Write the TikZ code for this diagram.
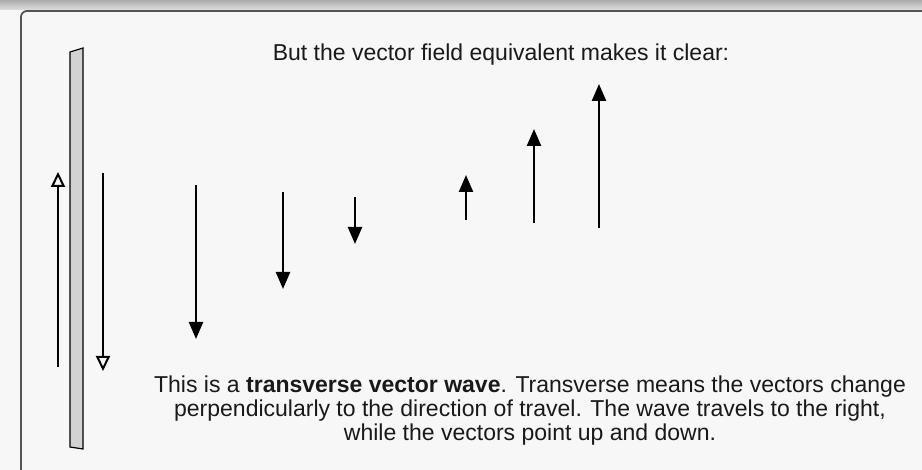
\documentclass[tikz,border=0pt]{standalone}
\usepackage{fontspec}
\setmainfont{Liberation Sans}
\usetikzlibrary{arrows.meta}

\definecolor{panelfill}{rgb}{.97,.97,.97}
\definecolor{panelline}{rgb}{.33,.33,.33}

\begin{document}
\begin{tikzpicture}[x=1pt,y=-1pt,
        vec/.style={line width=2.4pt, -{Triangle[length=17pt,width=14pt]}},
        wallvec/.style={line width=2.2pt, -{Triangle[open,length=15pt,width=14pt,line width=2pt]}},
        txt/.style={font=\fontsize{23}{24}\selectfont, text=black!90, inner sep=0pt, align=center}
      ]
        \useasboundingbox (0,0) rectangle (922,470);
        \clip (0,0) rectangle (922,470);
        % window frame
        \fill[gray!6] (0,0) rectangle (922,470);
        \shade[top color=gray!65, bottom color=gray!25] (0,0) rectangle (922,10);
        \draw[panelline, line width=1.8pt, fill=panelfill, rounded corners=6pt]
          (21,11) rectangle (960,500);
        % the wall
        \draw[black, line width=1.2pt, fill=gray!35] (70,52) -- (83,48) -- (83,449) -- (70,447) -- cycle;
        \coordinate (upS) at (58,367);   \coordinate (upE) at (58,172);
        \coordinate (dnS) at (103,173);  \coordinate (dnE) at (103,371);
        \draw[wallvec] (upS) -- (upE);
        \draw[wallvec] (dnS) -- (dnE);
        % the field
        \foreach \x/\ya/\yb [count=\i] in {196/185/339, 283/192/289, 355/197/244,
                                            466/220/175, 534/223/129, 599/228/84}{
          \coordinate (v\i s) at (\x,\ya);
          \coordinate (v\i e) at (\x,\yb);
          \draw[vec] (v\i s) -- (v\i e);
        }
        \node[txt, anchor=base] (title) at (501,61) {But the vector field equivalent makes it clear:};
        \node[txt, anchor=north] (caption) at (530,376)
          {This is a \textbf{transverse vector wave}. Transverse means the vectors change\\
           perpendicularly to the direction of travel. The wave travels to the right,\\
           while the vectors point up and down.};
      \end{tikzpicture}
\end{document}
